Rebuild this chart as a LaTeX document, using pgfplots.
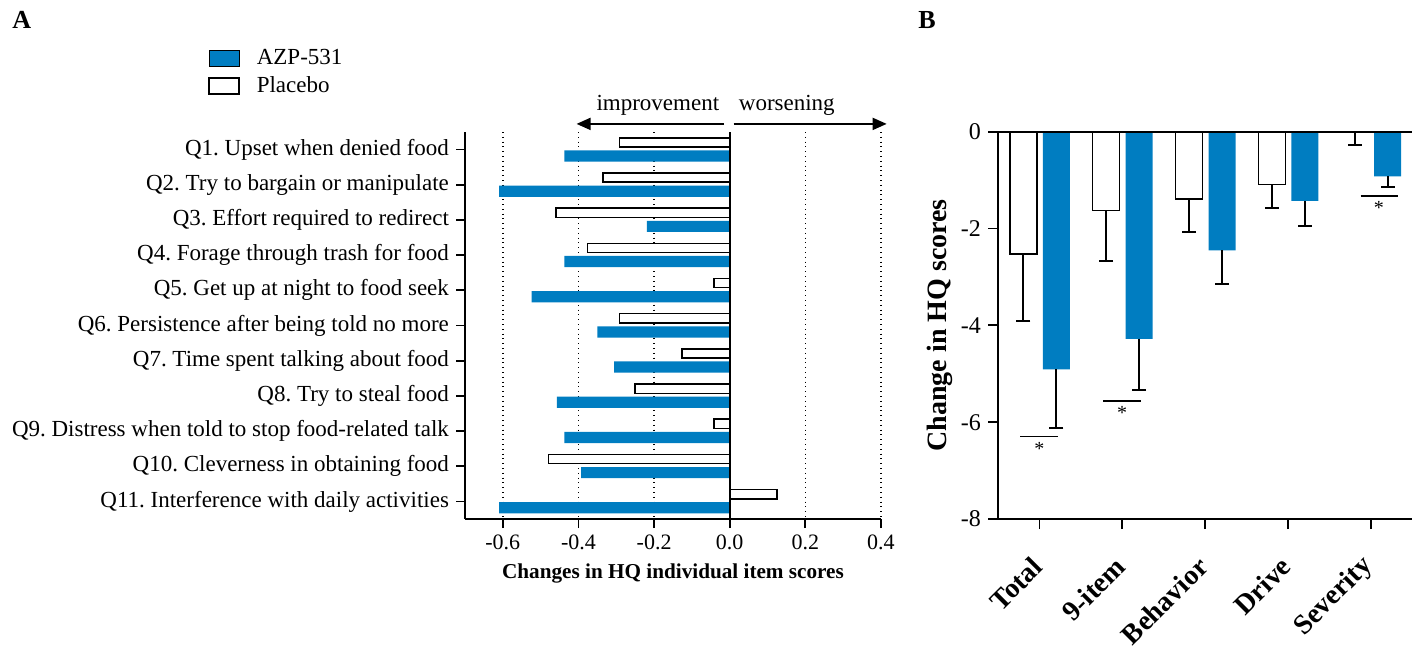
\documentclass[border=0pt]{standalone}
\usepackage{fontspec}
\setmainfont{Liberation Serif}
\usepackage{pgfplots}
\pgfplotsset{compat=1.18}
\usetikzlibrary{arrows.meta}
\definecolor{azp}{RGB}{0,125,193}

\begin{document}
\frenchspacing
\begin{tikzpicture}
% panel A: individual items
\begin{axis}[
  at={(232.5pt,-259.5pt)}, anchor=south west,
  scale only axis, width=208pt, height=193.5pt,
  xbar, bar width=5.6pt,
  xmin=-0.7, xmax=0.4, ymin=0.5, ymax=11.5, y dir=reverse,
  axis x line*=bottom, axis y line*=left,
  axis line style={line width=0.9pt},
  major tick style={line width=0.9pt, black},
  tick align=outside, major tick length=4.5pt,
  xtick={-0.6,-0.4,-0.2,0,0.2,0.4},
  /pgf/number format/assume math mode=true,
  xticklabel style={font=\fontsize{11}{13}\selectfont,
    /pgf/number format/fixed, /pgf/number format/fixed zerofill,
    /pgf/number format/precision=1},
  ytick={1,...,11},
  yticklabels={{Q1. Upset when denied food\hspace{2.5pt}},
    Q2. Try to bargain or manipulate,
    Q3. Effort required to redirect,
    Q4. Forage through trash for food,
    Q5. Get up at night to food seek,
    Q6. Persistence after being told no more,
    Q7. Time spent talking about food,
    Q8. Try to steal food,
    Q9. Distress when told to stop food-related talk,
    Q10. Cleverness in obtaining food,
    Q11. Interference with daily activities},
  yticklabel style={font=\fontsize{11.5}{13}\selectfont},
  xmajorgrids, grid style={dotted, black, line width=0.8pt},
  xlabel={Changes in HQ individual item scores},
  xlabel style={font=\fontsize{10.6}{13}\selectfont\bfseries},
  clip=false,
  legend style={at={(axis description cs:-0.618,1.222)}, anchor=north west,
    draw=none, fill=none, inner sep=0pt, row sep=1.5pt,
    font=\fontsize{11.5}{13}\selectfont,
    nodes={inner ysep=1.5pt, inner xsep=0pt},
    /tikz/every odd column/.append style={column sep=8.5pt}},
  legend cell align=left,
  legend image code/.code={\draw[#1] (0pt,-4pt) rectangle (15pt,4pt);},
]
\addplot[fill=azp, draw=none, bar shift=-3.2pt] coordinates {
  (-0.437,1) (-0.610,2) (-0.219,3) (-0.437,4) (-0.524,5) (-0.350,6)
  (-0.306,7) (-0.457,8) (-0.437,9) (-0.393,10) (-0.610,11)};
\addlegendentry{AZP-531}
\addplot[fill=white, draw=black, line width=0.75pt, bar width=4.6pt, bar shift=3.6pt] coordinates {
  (-0.291,1) (-0.335,2) (-0.459,3) (-0.376,4) (-0.042,5) (-0.292,6)
  (-0.126,7) (-0.250,8) (-0.042,9) (-0.479,10) (0.125,11)};
\addlegendentry{Placebo}
\draw[line width=0.9pt] (axis cs:0,0.5) -- (axis cs:0,11.5);
\draw[line width=0.9pt, -{Triangle[length=7pt,width=6pt]}] (axis cs:-0.015,0.27) -- (axis cs:-0.405,0.27);
\draw[line width=0.9pt, -{Triangle[length=7pt,width=6pt]}] (axis cs:0.01,0.27) -- (axis cs:0.415,0.27);
\node[anchor=base, font=\fontsize{11.5}{13}\selectfont] at (axis cs:-0.19,-0.125) {improvement};
\node[anchor=base, font=\fontsize{11.5}{13}\selectfont] at (axis cs:0.151,-0.125) {worsening};
\end{axis}

% panel B: total and domain scores
\begin{axis}[
  at={(499pt,-259.5pt)}, anchor=south west,
  scale only axis, width=207pt, height=193.65pt,
  ybar, bar width=13.5pt,
  xmin=0.5, xmax=5.5, ymin=-8, ymax=0,
  axis x line*=bottom, axis y line*=left,
  axis line style={line width=0.9pt},
  major tick style={line width=0.9pt, black},
  tick align=outside, major tick length=5pt,
  xtick={1,...,5},
  xticklabels={Total,9-item,Behavior,Drive,Severity},
  xticklabel style={rotate=45, anchor=east, xshift=-8.9pt, yshift=-11.1pt,
    font=\fontsize{14}{16}\selectfont\bfseries},
  ytick={-8,-6,...,0},
  /pgf/number format/assume math mode=true,
  yticklabel style={font=\fontsize{12}{14}\selectfont},
  ylabel={Change in HQ scores},
  ylabel style={at={(axis description cs:-0.14,0.5)}, anchor=center,
    font=\fontsize{14}{16}\selectfont\bfseries},
  clip=false,
  error bars/y dir=minus, error bars/y explicit,
  error bars/error mark=-,
  error bars/error bar style={line width=1pt, black, solid},
  error bars/error mark options={rotate=90, black, mark size=3.5pt, line width=1pt, draw=black},
]
\addplot[fill=white, draw=black, line width=0.75pt, bar shift=-8pt] coordinates {
  (1,-2.53) -= (0,1.38)
  (2,-1.63) -= (0,1.04)
  (3,-1.39) -= (0,0.68)
  (4,-1.09) -= (0,0.49)
  (5,-0.01) -= (0,0.27)};
\addplot[fill=azp, draw=none, bar shift=8.5pt] coordinates {
  (1,-4.91) -= (0,1.20)
  (2,-4.28) -= (0,1.06)
  (3,-2.45) -= (0,0.69)
  (4,-1.43) -= (0,0.51)
  (5,-0.92) -= (0,0.22)};
\draw[line width=0.9pt] (axis cs:0.5,0) -- (axis cs:5.5,0);
\draw[line width=0.7pt] (axis cs:0.77,-6.3) -- (axis cs:1.23,-6.3);
\node[font=\fontsize{10}{12}\selectfont] at (axis cs:1,-6.55) {*};
\draw[line width=0.7pt] (axis cs:1.77,-5.56) -- (axis cs:2.23,-5.56);
\node[font=\fontsize{10}{12}\selectfont] at (axis cs:2,-5.81) {*};
\draw[line width=0.7pt] (axis cs:4.88,-1.33) -- (axis cs:5.33,-1.33);
\node[font=\fontsize{10}{12}\selectfont] at (axis cs:5.1,-1.58) {*};
\end{axis}

\node[anchor=base west, inner sep=0pt, font=\fontsize{13}{15}\selectfont\bfseries] at (6pt,-14.5pt) {A};
\node[anchor=base west, inner sep=0pt, font=\fontsize{13}{15}\selectfont\bfseries] at (459pt,-14.5pt) {B};
\pgfresetboundingbox
\useasboundingbox (0pt,0pt) rectangle (709pt,-325.5pt);
\end{tikzpicture}
\end{document}
